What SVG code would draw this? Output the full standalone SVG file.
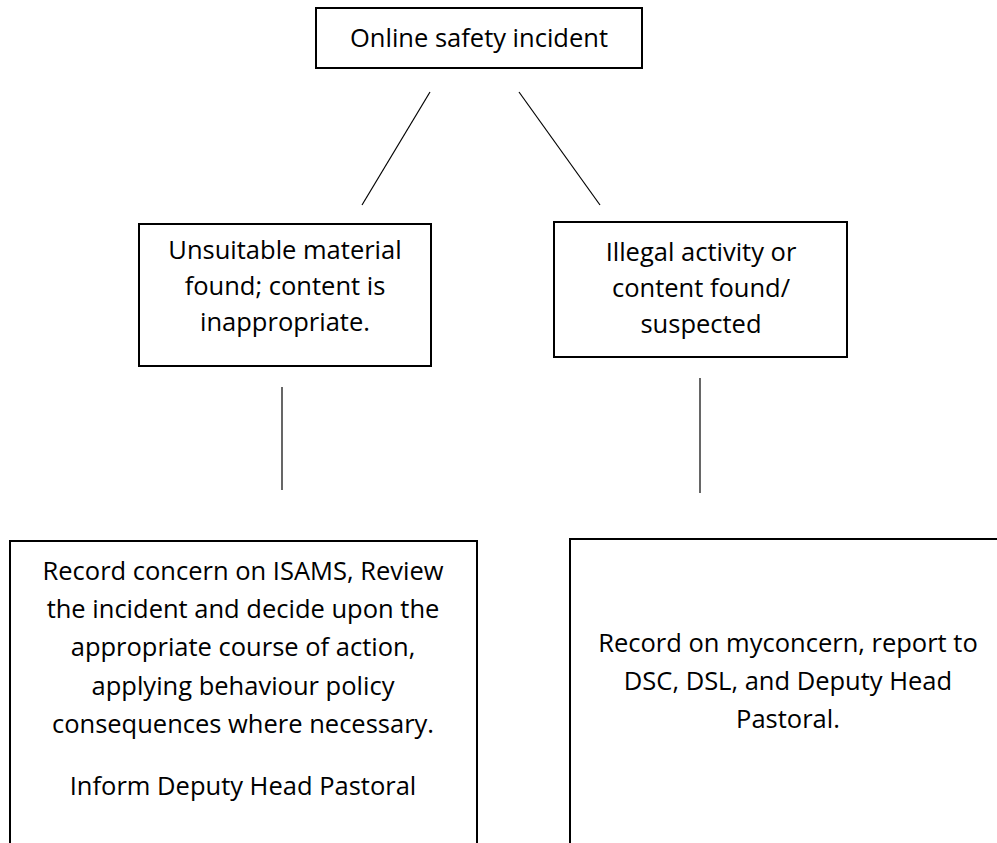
<svg xmlns="http://www.w3.org/2000/svg" width="997" height="843" viewBox="0 0 997 843">
<style>
.box{fill:#fff;stroke:#000;stroke-width:2}
.t{font-family:"Open Sans","Liberation Sans",sans-serif;font-size:25.5px;fill:#000;text-anchor:middle}
.c{stroke:#000;stroke-width:1.2;fill:none}
</style>
<rect width="997" height="843" fill="#fff"/>
<g id="connectors">
<line class="c" x1="430" y1="92" x2="362" y2="205"/>
<line class="c" x1="519" y1="92" x2="600" y2="205"/>
<line class="c" x1="282" y1="387" x2="282" y2="490"/>
<line class="c" x1="700" y1="378" x2="700" y2="493"/>
</g>
<g id="n1">
<rect class="box" x="316" y="8" width="326" height="60"/>
<text class="t" x="479" y="47">Online safety incident</text>
</g>
<g id="n2">
<rect class="box" x="139" y="224" width="292" height="142"/>
<text class="t" x="285" y="259">Unsuitable material</text>
<text class="t" x="285" y="295">found; content is</text>
<text class="t" x="285" y="331">inappropriate.</text>
</g>
<g id="n3">
<rect class="box" x="554" y="222" width="293" height="135"/>
<text class="t" x="701" y="261">Illegal activity or</text>
<text class="t" x="701" y="297">content found/</text>
<text class="t" x="701" y="333">suspected</text>
</g>
<g id="n4">
<path class="box" d="M10,850 V541 H477 V850"/>
<text class="t" x="243" y="580">Record concern on ISAMS, Review</text>
<text class="t" x="243" y="618">the incident and decide upon the</text>
<text class="t" x="243" y="656">appropriate course of action,</text>
<text class="t" x="243" y="695">applying behaviour policy</text>
<text class="t" x="243" y="733">consequences where necessary.</text>
<text class="t" x="243" y="795">Inform Deputy Head Pastoral</text>
</g>
<g id="n5">
<path class="box" d="M570,850 V539 H1000"/>
<text class="t" x="788" y="652">Record on myconcern, report to</text>
<text class="t" x="788" y="690">DSC, DSL, and Deputy Head</text>
<text class="t" x="788" y="728">Pastoral.</text>
</g>
</svg>
